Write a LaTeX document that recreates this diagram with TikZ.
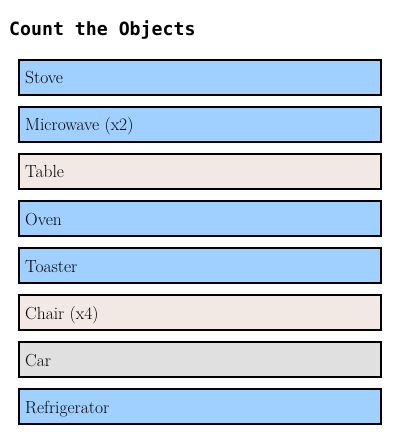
\documentclass[tikz,border=0pt]{standalone}
\usepackage{fontspec}
\newfontfamily\titlefont{DejaVu Sans Mono}
\definecolor{cblue}{RGB}{160,208,255}
\definecolor{cbeige}{RGB}{242,232,228}
\definecolor{cgrey}{RGB}{224,224,224}
\begin{document}
\begin{tikzpicture}[x=1pt,y=-1pt,
  itembox/.style={draw=black, line width=2pt, minimum width=362pt, minimum height=35pt, inner sep=0pt, outer sep=0pt, anchor=north west},
  itemtext/.style={anchor=base west, inner sep=0pt, font=\fontsize{17.5}{20}\selectfont},
  titletext/.style={anchor=base west, inner sep=0pt, font=\titlefont\bfseries\fontsize{18.2}{22}\selectfont}]
\useasboundingbox (0,0) rectangle (400,435);
\node[titletext] (title) at (9,35.7) {Count the Objects};
\foreach \i/\lbl/\col in {0/Stove/cblue, 1/Microwave (x2)/cblue, 2/Table/cbeige, 3/Oven/cblue, 4/Toaster/cblue, 5/Chair (x4)/cbeige, 6/Car/cgrey, 7/Refrigerator/cblue}{
  \node[itembox, fill=\col] (box\i) at (19,{60+47*\i}) {};
  \node[itemtext] (lbl\i) at (25,{84+47*\i}) {\lbl};
}
\end{tikzpicture}
\end{document}
